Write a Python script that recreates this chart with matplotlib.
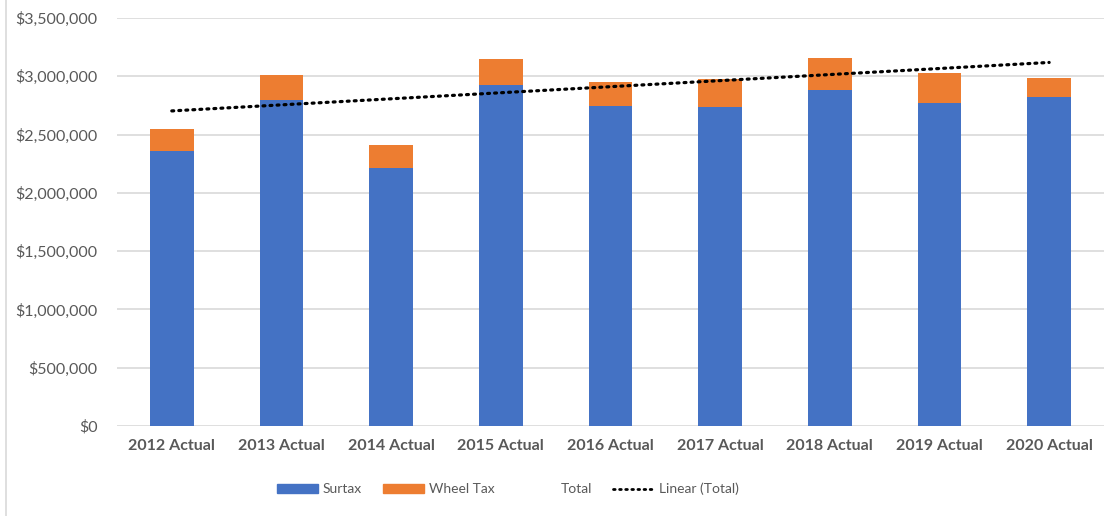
import numpy as np
import matplotlib.pyplot as plt
from matplotlib.lines import Line2D
from matplotlib.patches import Patch
from matplotlib.ticker import FuncFormatter

categories = ['2012 Actual', '2013 Actual', '2014 Actual', '2015 Actual', '2016 Actual',
              '2017 Actual', '2018 Actual', '2019 Actual', '2020 Actual']
surtax = [2361000, 2798000, 2213000, 2927000, 2747000, 2738000, 2884000, 2773000, 2822000]
wheel_tax = [186000, 210000, 197000, 218000, 203000, 235000, 272000, 252000, 162000]

total = np.array(surtax) + np.array(wheel_tax)
x = np.arange(len(categories))

plt.rcParams['font.family'] = ['Lato', 'DejaVu Sans']

fig = plt.figure(figsize=(11.14, 5.16), dpi=100)
ax = fig.add_axes([0.105, 0.1744, 0.886, 0.7907])

blue = '#4472C4'
orange = '#ED7D31'
ax.bar(x, surtax, width=0.4, color=blue, zorder=2)
ax.bar(x, wheel_tax, width=0.4, bottom=surtax, color=orange, zorder=2)

# linear trendline of totals
k, b = np.polyfit(x, total, 1)
ax.plot(x, k * x + b, color='black', lw=2.3, linestyle=(0, (0.6, 1.6)),
        dash_capstyle='round', zorder=3)

ax.set_xlim(-0.5, len(categories) - 0.5)
ax.set_ylim(0, 3500000)
ax.set_yticks(np.arange(0, 3500001, 500000))
ax.yaxis.set_major_formatter(FuncFormatter(lambda v, p: '${:,.0f}'.format(v)))
ax.set_xticks(x)
ax.set_xticklabels(categories, fontweight='bold')
ax.tick_params(axis='both', length=0, labelsize=11.5, colors='#595959')
ax.tick_params(axis='x', pad=9)
ax.tick_params(axis='y', pad=14)
ax.grid(axis='y', color='#D9D9D9', lw=1.2, zorder=0)
for s in ax.spines.values():
    s.set_visible(False)

handles = [Patch(color=blue), Patch(color=orange),
           Line2D([], [], linestyle='none'),
           Line2D([], [], color='black', lw=2, linestyle=(0, (0.6, 1.6)), dash_capstyle='round')]
labels = ['Surtax', 'Wheel Tax', 'Total', 'Linear (Total)']
leg = fig.legend(handles, labels, loc='center', bbox_to_anchor=(0.456, 0.052), ncol=4,
                 frameon=False, fontsize=10, handlelength=2.95, handleheight=0.65,
                 columnspacing=1.5, handletextpad=0.35)
for t in leg.get_texts():
    t.set_color('#595959')

fig.add_artist(Line2D([0.0055, 0.0055], [0, 1], color='#D9D9D9', lw=1.2))

fig.savefig('out.png', dpi=100)
